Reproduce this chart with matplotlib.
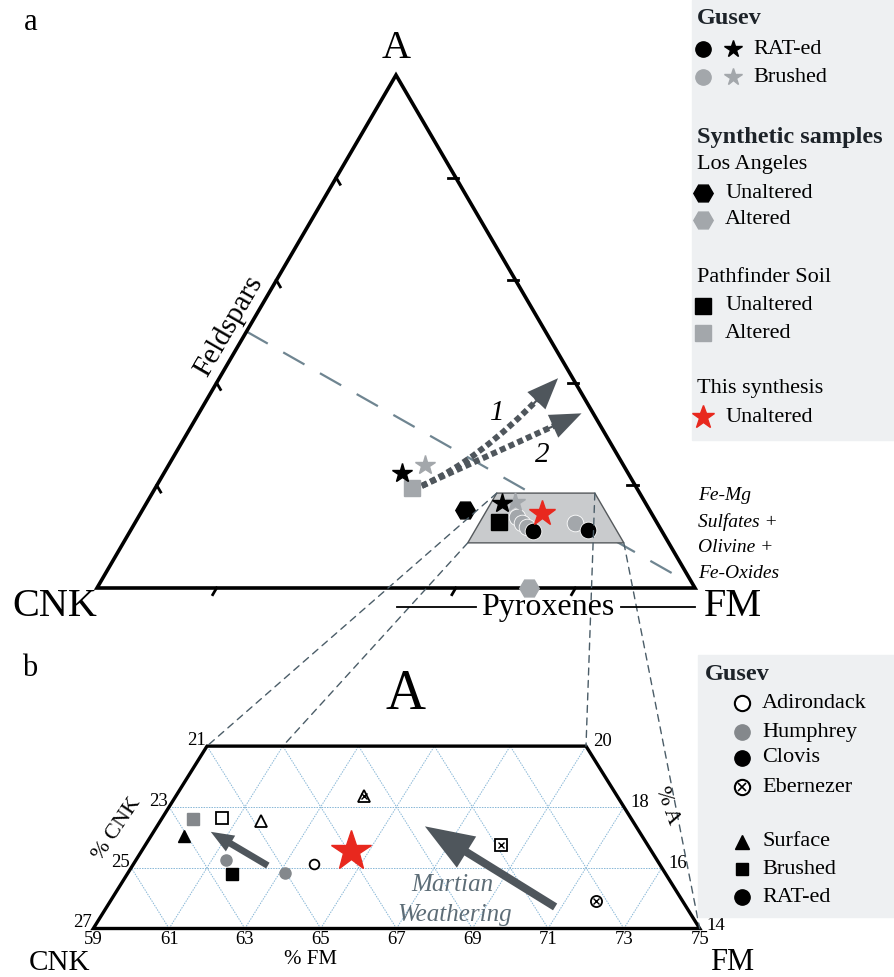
import numpy as np
import matplotlib.pyplot as plt
from matplotlib.patches import Polygon, Rectangle, ConnectionPatch, FancyArrowPatch, PathPatch
from matplotlib.path import Path

plt.rcParams['font.family'] = ['Liberation Serif', 'DejaVu Serif']

S3 = np.sqrt(3) / 2


def tern(fm, a):
    # ternary (FM %, A %) -> cartesian, CNK at left, FM at right, A at top
    fm = np.asarray(fm, float)
    a = np.asarray(a, float)
    return fm + a / 2, a * S3


# ---------------- panel a data (FM %, A %) ----------------
rat_circle_fm = [67.3, 76.5]
rat_circle_a = [11.2, 11.3]
brushed_circle_fm = [63.3, 64.7, 66.0, 73.6]
brushed_circle_a = [13.8, 12.7, 11.9, 12.6]
rat_star_fm = [39.8, 59.4]
rat_star_a = [22.4, 16.5]
brushed_star_fm = [42.8, 61.5]
brushed_star_a = [24.0, 16.8]
la_unalt_fm, la_unalt_a = [53.9], [15.2]
la_alt_fm, la_alt_a = [72.2], [0.0]
pf_unalt_fm, pf_unalt_a = [60.8], [12.9]
pf_alt_fm, pf_alt_a = [42.9], [19.5]
synth_a_fm, synth_a_a = [67.1], [14.6]

feldspar_fm = [0.0, 96.5]
feldspar_a = [50.0, 2.0]

box_a = (8.8, 18.5)        # A range of zoom box
box_fm_left = 57.6         # left side, constant FM
box_cnk_right = 7.5        # right side, constant CNK

arrow_start = (44.35, 19.9)
arrow1_ctrl = (51.5, 25.05)
arrow1_end = (56.65, 40.9)
arrow2_end = (64.0, 34.05)

# ---------------- panel b data (FM %, A %) ----------------
adir_surface = ([61.66], [17.53])
adir_brushed = ([60.56], [17.65])
adir_rat = ([63.77], [16.13])
hum_brushed = ([59.84], [17.59])
hum_rat = ([61.38, 63.16], [16.24, 15.81])
clovis_surface = ([59.87], [17.03])
clovis_brushed = ([61.76], [15.80])
eber_surface = ([63.97], [18.36])
eber_brushed = ([68.38], [16.75])
eber_rat = ([71.82], [14.89])
synth_b = ([64.52], [16.54])

b_fm_ticks = [59, 61, 63, 65, 67, 69, 71, 73, 75]
b_cnk_ticks = [27, 25, 23, 21]
b_a_ticks = [20, 18, 16, 14]
b_a_range = (14, 20)
b_fm_left = 59
b_cnk_right = 11

arrow_small = ((62.57, 16.07), (60.51, 17.18))
arrow_big = ((70.83, 14.71), (66.07, 17.36))

BLACK = '#000000'
GRAY = '#a3a7ab'
DGRAY = '#84888c'
RED = '#e8281e'
ARROW = '#4f565c'
DASH = '#4b5d68'
LEG_BG = '#eef0f2'

W, H = 894, 977
fig = plt.figure(figsize=(W / 100, H / 100), dpi=100)

# axes a : pixel mapping CNK vertex (97,588), 5.98 px/unit x, 5.923 px/unit y
ax_a = fig.add_axes([0, (H - 640) / H, 1, 640 / H])
ax_a.set_xlim(-97 / 5.98, (W - 97) / 5.98)
ax_a.set_ylim(-52 / 5.923, 588 / 5.923)
ax_a.axis('off')
ax_a.patch.set_visible(False)

# axes b : bottom-left corner (93.3,928.5), 37.9 px/unit x, 35.1 px/unit y
ax_b = fig.add_axes([0, 0, 1, (H - 640) / H])
ax_b.set_xlim(66 - 93.3 / 37.9, 66 + (W - 93.3) / 37.9)
y0 = 14 * S3
ax_b.set_ylim(y0 - (H - 928.5) / 35.1, y0 + (928.5 - 640) / 35.1)
ax_b.axis('off')
ax_b.patch.set_visible(False)

# ---------------- panel a ----------------
tri = np.array([tern(0, 0), tern(100, 0), tern(0, 100)])
ax_a.add_patch(Polygon(tri, closed=True, fill=False, ec='black', lw=2.6, zorder=2, joinstyle='miter'))

# edge ticks
tl = 1.3
for f in [20, 60, 80]:
    x, y = tern(f, 0)
    ax_a.plot([x, x - 0.5 * tl], [y, y - S3 * tl], color='black', lw=2, zorder=2)
for v in [20, 40, 60, 80]:
    x, y = tern(0, v)
    ax_a.plot([x, x + 0.5 * tl], [y, y - S3 * tl], color='black', lw=2, zorder=2)
    x, y = tern(100 - v, v)
    ax_a.plot([x + 0.4, x - tl], [y, y], color='black', lw=2, zorder=2)

# feldspar join line
fx, fy = tern(feldspar_fm, feldspar_a)
ax_a.plot(fx, fy, color='#6f8591', lw=1.6, dashes=(11, 8), zorder=1)

# zoom box
a_lo, a_hi = box_a
box_pts = [tern(box_fm_left, a_lo), tern(100 - box_cnk_right - a_lo, a_lo),
           tern(100 - box_cnk_right - a_hi, a_hi), tern(box_fm_left, a_hi)]
ax_a.add_patch(Polygon(np.array(box_pts), closed=True, fc='#c9cbcd', ec='#55595c', lw=1, zorder=1.5))

# arrows 1 and 2 (dotted shafts, solid heads)
s = np.array(tern(*arrow_start))
c1 = np.array(tern(*arrow1_ctrl))
e1 = np.array(tern(*arrow1_end))
e2 = np.array(tern(*arrow2_end))
for ctrl, end in [(c1, e1), ((s + e2) / 2, e2)]:
    d = end - ctrl
    d = d / np.hypot(*d)
    back = end - d * 6.5
    p = Path([s, ctrl, end - d * 4.0], [Path.MOVETO, Path.CURVE3, Path.CURVE3])
    ax_a.add_patch(PathPatch(p, fill=False, ec=ARROW, lw=4.3, ls=(0, (1.0, 0.6)), zorder=4))
    ax_a.add_patch(FancyArrowPatch(back, end, arrowstyle='simple,head_length=0.75,head_width=0.6,tail_width=0.05',
                                   mutation_scale=30, color=ARROW, lw=0, zorder=4, shrinkA=0, shrinkB=0))
ax_a.text(*tern(49.85, 34.1), '1', fontsize=21, style='italic', ha='center', va='center')
ax_a.text(*tern(61.45, 25.9), '2', fontsize=21, style='italic', ha='center', va='center')

# points
def pts(ax, fm, a, **kw):
    x, y = tern(fm, a)
    ax.plot(x, y, ls='none', **kw)

pts(ax_a, brushed_circle_fm, brushed_circle_a, marker='o', ms=12, color=GRAY, mec='white', mew=0.6, zorder=5)
pts(ax_a, rat_circle_fm, rat_circle_a, marker='o', ms=12, color=BLACK, mec='white', mew=0.6, zorder=6)
pts(ax_a, rat_star_fm, rat_star_a, marker='*', ms=15, color=BLACK, zorder=6)
pts(ax_a, brushed_star_fm, brushed_star_a, marker='*', ms=15, color=GRAY, zorder=5)
pts(ax_a, la_unalt_fm, la_unalt_a, marker='H', ms=14, color=BLACK, zorder=5)
pts(ax_a, la_alt_fm, la_alt_a, marker='H', ms=14, color=GRAY, zorder=5)
pts(ax_a, pf_unalt_fm, pf_unalt_a, marker='s', ms=11, color=BLACK, zorder=5)
pts(ax_a, pf_alt_fm, pf_alt_a, marker='s', ms=11, color=GRAY, zorder=5)
pts(ax_a, synth_a_fm, synth_a_a, marker='*', ms=19, color=RED, zorder=7)

# ---------------- panel b ----------------
a_b0, a_b1 = b_a_range
trap = [tern(b_fm_left, a_b0), tern(100 - b_cnk_right - a_b0, a_b0),
        tern(100 - b_cnk_right - a_b1, a_b1), tern(b_fm_left, a_b1)]
ax_b.add_patch(Polygon(np.array(trap), closed=True, fill=False, ec='black', lw=2.4, zorder=3, joinstyle='miter'))

grid_kw = dict(color='#86b6d6', lw=0.7, ls=(0, (1.5, 1.2)), zorder=1)
for av in [16, 18]:
    ax_b.plot(*tern([b_fm_left, 100 - b_cnk_right - av], [av, av]), **grid_kw)
for f in range(61, 75, 2):
    top = min(a_b1, 100 - b_cnk_right - f)
    ax_b.plot(*tern([f, f], [a_b0, top]), **grid_kw)
for cnk in range(13, 27, 2):
    top = min(a_b1, 100 - cnk - b_fm_left)
    ax_b.plot(*tern([100 - cnk - a_b0, 100 - cnk - top], [a_b0, top]), **grid_kw)

# tick labels
TF = 13.5
for f in b_fm_ticks:
    ax_b.annotate(str(f), tern(f, a_b0), xytext=(0, -2), textcoords='offset points',
                  ha='center', va='top', fontsize=TF)
for c in b_cnk_ticks:
    ax_b.annotate(str(c), tern(b_fm_left, 100 - b_fm_left - c), xytext=(-1, 4), textcoords='offset points',
                  ha='right', va='center', fontsize=TF)
for av in b_a_ticks:
    ax_b.annotate(str(av), tern(100 - b_cnk_right - av, av), xytext=(5, 3 if av != 14 else 2),
                  textcoords='offset points', ha='left', va='center', fontsize=TF)

# arrows in b
for (t0, t1), ms, hl, hw, tw in [(arrow_small, 22, 0.75, 0.6, 0.22), (arrow_big, 44, 0.8, 0.6, 0.13)]:
    ax_b.add_patch(FancyArrowPatch(tern(*t0), tern(*t1),
                                   arrowstyle=f'simple,head_length={hl},head_width={hw},tail_width={tw}',
                                   mutation_scale=ms, color=ARROW, lw=0, zorder=4, shrinkA=0, shrinkB=0))

pts(ax_b, *adir_surface, marker='^', ms=9, mfc='white', mec='black', mew=1.3, zorder=5)
pts(ax_b, *adir_brushed, marker='s', ms=8, mfc='white', mec='black', mew=1.3, zorder=5)
pts(ax_b, *adir_rat, marker='o', ms=7, mfc='white', mec='black', mew=1.3, zorder=5)
pts(ax_b, *hum_brushed, marker='s', ms=8, color=DGRAY, zorder=5)
pts(ax_b, *hum_rat, marker='o', ms=8, color=DGRAY, zorder=5)
pts(ax_b, *clovis_surface, marker='^', ms=9, color=BLACK, zorder=5)
pts(ax_b, *clovis_brushed, marker='s', ms=8, color=BLACK, zorder=5)
for (fm, a), mk in [(eber_surface, '^'), (eber_brushed, 's'), (eber_rat, 'o')]:
    pts(ax_b, fm, a, marker=mk, ms=8, mfc='white', mec='black', mew=1.3, zorder=5)
    pts(ax_b, fm, a, marker='x', ms=4, mec='black', mew=1, zorder=6)
pts(ax_b, *synth_b, marker='*', ms=30, color=RED, zorder=6)

# ---------------- connection lines between a and b ----------------
b_top_second = tern(b_fm_left + 2, a_b1)
links = [(box_pts[3], trap[3]), (box_pts[0], b_top_second), (box_pts[2], trap[2]), (box_pts[1], trap[1])]
for pa, pb in links:
    con = ConnectionPatch(xyA=pa, coordsA=ax_a.transData, xyB=pb, coordsB=ax_b.transData,
                          color=DASH, lw=1, ls=(0, (5, 4)), zorder=0.5)
    fig.add_artist(con)

# ---------------- overlay: labels and legends (pixel space) ----------------
ax_t = fig.add_axes([0, 0, 1, 1], zorder=10)
ax_t.set_xlim(0, W)
ax_t.set_ylim(H, 0)
ax_t.axis('off')
ax_t.patch.set_visible(False)

ax_t.text(24, 22, 'a', fontsize=22, ha='left', va='center')
ax_t.text(22, 668, 'b', fontsize=22, ha='left', va='center')
ax_t.text(396, 48, 'A', fontsize=29, ha='center', va='center')
ax_t.text(55, 606, 'CNK', fontsize=29, ha='center', va='center')
ax_t.text(733, 606, 'FM', fontsize=29, ha='center', va='center')
ax_t.text(548, 608, 'Pyroxenes', fontsize=23, ha='center', va='center')
ax_t.plot([397, 476], [607, 607], color='black', lw=1.3)
ax_t.plot([621, 695], [607, 607], color='black', lw=1.3)
ax_t.text(229, 326, 'Feldspars', fontsize=21, rotation=60, ha='center', va='center', rotation_mode='anchor')
for i, line in enumerate(['Fe-Mg', 'Sulfates +', 'Olivine +', 'Fe-Oxides']):
    ax_t.text(698, 496 + i * 26, line, fontsize=14, style='italic', ha='left', va='center')

ax_t.text(405, 695, 'A', fontsize=40, ha='center', va='center')
ax_t.text(60, 963, 'CNK', fontsize=21, ha='center', va='center')
ax_t.text(732, 962, 'FM', fontsize=22, ha='center', va='center')
ax_t.text(310, 960, '% FM', fontsize=15, ha='center', va='center')
ax_t.text(117, 829, '% CNK', fontsize=16, rotation=56, ha='center', va='center')
ax_t.text(667, 806, '% A', fontsize=16, rotation=-70, ha='center', va='center')
ax_t.text(452, 885, 'Martian', fontsize=18, style='italic', color='#5d6d77', ha='center', va='center')
ax_t.text(455, 915, 'Weathering', fontsize=18, style='italic', color='#5d6d77', ha='center', va='center')

# legend a
ax_t.add_patch(Rectangle((692, 0), W - 692, 440, color=LEG_BG, zorder=0))
LF = 16
HF = 17.5
ax_t.text(697, 18, 'Gusev', fontsize=HF, weight='bold', va='center', color='#1d2329')
ax_t.plot([703], [49], 'o', ms=11, color=BLACK)
ax_t.plot([733], [49], '*', ms=13, color=BLACK)
ax_t.text(753, 49, 'RAT-ed', fontsize=LF, va='center')
ax_t.plot([703], [77], 'o', ms=11, color=GRAY)
ax_t.plot([733], [77], '*', ms=13, color=GRAY)
ax_t.text(753, 77, 'Brushed', fontsize=LF, va='center')
ax_t.text(697, 137, 'Synthetic samples', fontsize=HF, weight='bold', va='center', color='#1d2329')
ax_t.text(697, 165, 'Los Angeles', fontsize=LF, va='center')
ax_t.plot([703], [193], 'H', ms=14, color=BLACK)
ax_t.text(725, 193, 'Unaltered', fontsize=LF, va='center')
ax_t.plot([703], [220], 'H', ms=14, color=GRAY)
ax_t.text(725, 220, 'Altered', fontsize=LF, va='center')
ax_t.text(697, 278, 'Pathfinder Soil', fontsize=LF, va='center')
ax_t.plot([703], [306], 's', ms=11, color=BLACK)
ax_t.text(725, 306, 'Unaltered', fontsize=LF, va='center')
ax_t.plot([703], [333], 's', ms=11, color=GRAY)
ax_t.text(725, 333, 'Altered', fontsize=LF, va='center')
ax_t.text(697, 388, 'This synthesis', fontsize=LF, va='center')
ax_t.plot([703], [417], '*', ms=17, color=RED)
ax_t.text(725, 417, 'Unaltered', fontsize=LF, va='center')

# legend b
ax_t.add_patch(Rectangle((698, 655), W - 698, 262, color=LEG_BG, zorder=0))
ax_t.text(705, 675, 'Gusev', fontsize=HF, weight='bold', va='center', color='#1d2329')
ax_t.plot([742], [703], 'o', ms=11, mfc='white', mec='black', mew=1.5)
ax_t.text(762, 703, 'Adirondack', fontsize=LF, va='center')
ax_t.plot([742], [732], 'o', ms=11, color=DGRAY)
ax_t.text(762, 732, 'Humphrey', fontsize=LF, va='center')
ax_t.plot([742], [758], 'o', ms=11, color=BLACK)
ax_t.text(762, 758, 'Clovis', fontsize=LF, va='center')
ax_t.plot([742], [787], 'o', ms=11, mfc='white', mec='black', mew=1.5)
ax_t.plot([742], [787], 'x', ms=6, mec='black', mew=1.2)
ax_t.text(762, 787, 'Ebernezer', fontsize=LF, va='center')
ax_t.plot([742], [842], '^', ms=10, color=BLACK)
ax_t.text(762, 842, 'Surface', fontsize=LF, va='center')
ax_t.plot([742], [869], 's', ms=9, color=BLACK)
ax_t.text(762, 869, 'Brushed', fontsize=LF, va='center')
ax_t.plot([742], [897], 'o', ms=11, color=BLACK)
ax_t.text(762, 897, 'RAT-ed', fontsize=LF, va='center')

fig.savefig('out.png', dpi=100)
